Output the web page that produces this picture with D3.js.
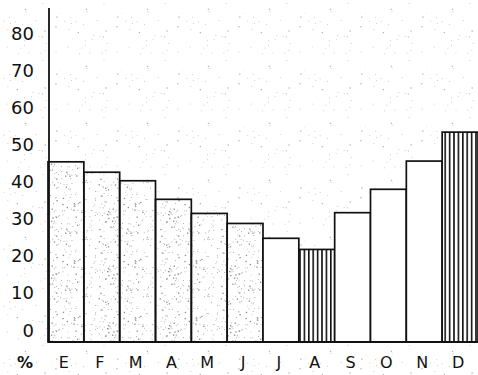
<!DOCTYPE html>
<html>
<head>
<meta charset="utf-8">
<script src="https://cdn.jsdelivr.net/npm/d3@7"></script>
<style>
  body { margin: 0; background: #fff; }
  text { font-family: "DejaVu Sans", sans-serif; fill: #111; }
</style>
</head>
<body>
<svg width="478" height="375"></svg>
<script>
// monthly percentages (Spanish month initials)
var months = ["E", "F", "M", "A", "M", "J", "J", "A", "S", "O", "N", "D"];
var values = [45.3, 42.5, 40.2, 35.2, 31.4, 28.7, 24.7, 21.7, 31.6, 37.9, 45.5, 53.3];
var yTicks = [0, 10, 20, 30, 40, 50, 60, 70, 80];
var unitLabel = "%";

var svg = d3.select("svg");
var defs = svg.append("defs");

// deterministic speckle for the scanned-paper look
var seed = 7;
function rnd() { seed = (seed * 16807) % 2147483647; return (seed - 1) / 2147483646; }

function speckle(id, n, col) {
  var p = defs.append("pattern").attr("id", id)
    .attr("patternUnits", "userSpaceOnUse").attr("width", 61).attr("height", 57);
  for (var i = 0; i < n; i++) {
    var s = rnd() < 0.25 ? 1.3 : 0.8;
    p.append("rect")
      .attr("x", rnd() * 61).attr("y", rnd() * 57)
      .attr("width", s).attr("height", s)
      .attr("fill", col);
  }
}
speckle("bg", 30, "#b4b4b4");
speckle("dots", 130, "#8a8a8a");

var stripes = defs.append("pattern").attr("id", "lines")
  .attr("patternUnits", "userSpaceOnUse").attr("width", 4.4).attr("height", 10);
stripes.append("rect").attr("width", 4.4).attr("height", 10).attr("fill", "#fff");
stripes.append("rect").attr("x", 0).attr("width", 1.6).attr("height", 10).attr("fill", "#111");

svg.append("rect").attr("width", 478).attr("height", 375).attr("fill", "url(#bg)");

var x = d3.scaleBand().domain(d3.range(months.length)).range([48, 478]).padding(0);
var y = d3.scaleLinear().domain([0, 80]).range([330, 33]);
var base = y(0) + 12;

var lo = d3.min(values), hi = d3.max(values);
function fillFor(v, i) {
  if (v === lo || v === hi) return "url(#lines)";
  if (i < 6) return "url(#dots)";
  return "#fff";
}

svg.selectAll("rect.bar").data(values).enter().append("rect")
  .attr("class", "bar")
  .attr("x", function (d, i) { return x(i); })
  .attr("y", function (d) { return y(d); })
  .attr("width", x.bandwidth())
  .attr("height", function (d) { return base - y(d); })
  .attr("fill", function (d, i) { return fillFor(d, i); })
  .attr("stroke", "#111").attr("stroke-width", 1.7);

// axis
svg.append("line").attr("x1", 49).attr("x2", 49).attr("y1", 8).attr("y2", base)
  .attr("stroke", "#111").attr("stroke-width", 1.8);
svg.append("line").attr("x1", 48).attr("x2", 478).attr("y1", base).attr("y2", base)
  .attr("stroke", "#111").attr("stroke-width", 2.2);

svg.selectAll("text.yt").data(yTicks).enter().append("text")
  .attr("class", "yt")
  .attr("x", 34).attr("y", function (d) { return y(d); })
  .attr("text-anchor", "end").attr("dominant-baseline", "central")
  .style("font-size", "18px")
  .text(function (d) { return d; });

svg.selectAll("text.xt").data(months).enter().append("text")
  .attr("class", "xt")
  .attr("x", function (d, i) { return x(i) + x.bandwidth() / 2 - 2; })
  .attr("y", 368)
  .style("font-size", "16px")
  .attr("text-anchor", "middle")
  .text(function (d) { return d; });

svg.append("text").attr("x", 25).attr("y", 368)
  .attr("text-anchor", "middle")
  .style("font-size", "16px").style("font-weight", "bold")
  .text(unitLabel);
</script>
</body>
</html>
